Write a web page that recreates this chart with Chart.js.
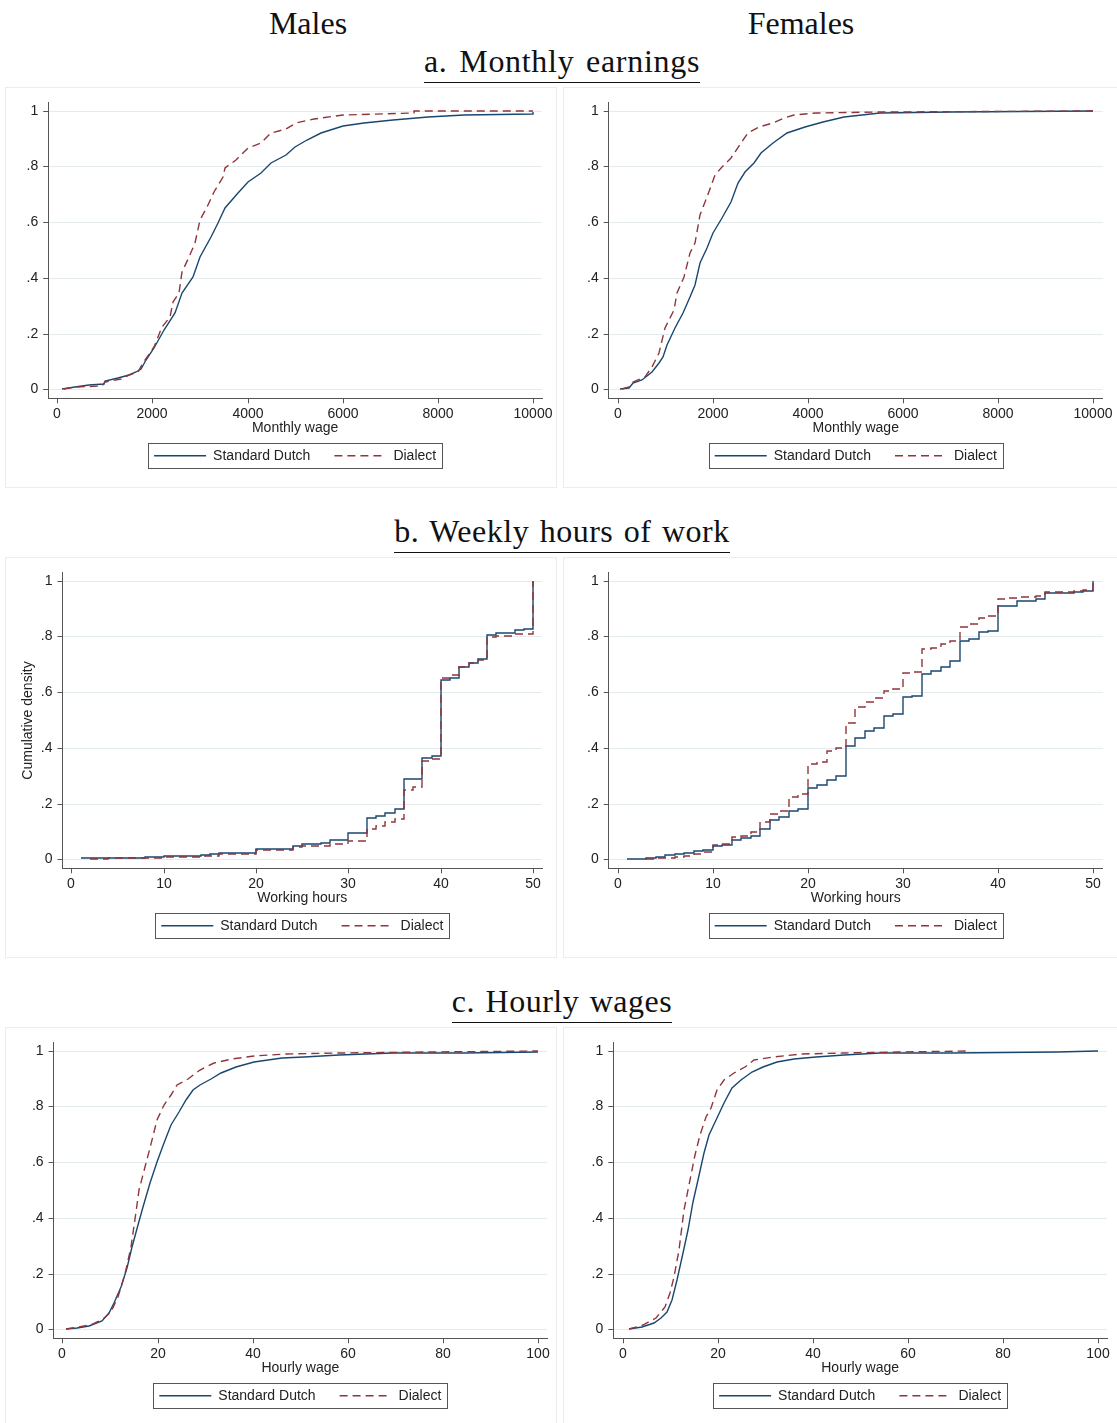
<!DOCTYPE html>
<html>
<head>
<meta charset="utf-8">
<title>Cumulative distributions</title>
<script src="https://cdn.jsdelivr.net/npm/chart.js@4.4.1/dist/chart.umd.min.js"></script>
<style>
    body {
        margin: 0;
        width: 1117px;
        height: 1423px;
        position: relative;
        overflow: hidden;
        background: #fff;
    }
    .serif {
        position: absolute;
        font-family: 'Liberation Serif', 'Times New Roman', serif;
        font-size: 32px;
        line-height: 32px;
        color: #111;
        white-space: nowrap;
    }
    .sex {
        transform: translateX(-50%);
    }
    .section {
        left: 0;
        width: 1124px;
        text-align: center;
    }
    .section span {
        display: inline-block;
        letter-spacing: 0.5px;
        word-spacing: 2px;
        padding-bottom: 5px;
        border-bottom: 1.6px solid #111;
    }
    .frame {
        position: absolute;
        box-sizing: border-box;
        border: 1px solid #ececec;
    }
    canvas {
        position: absolute;
    }
</style>
</head>
<body>

<div class="serif sex" style="left:308px; top:7px;">Males</div>
<div class="serif sex" style="left:801px; top:7px;">Females</div>

<div class="serif section" style="top:45px;"><span style="letter-spacing:0.7px; word-spacing:3px;">a. Monthly earnings</span></div>
<div class="serif section" style="top:515px;"><span>b. Weekly hours of work</span></div>
<div class="serif section" style="top:985px;"><span>c. Hourly wages</span></div>

<div class="frame" style="left:5px; top:87px; width:552px; height:401px;"></div>
<div class="frame" style="left:563px; top:87px; width:560px; height:401px;"></div>
<div class="frame" style="left:5px; top:557px; width:552px; height:401px;"></div>
<div class="frame" style="left:563px; top:557px; width:560px; height:401px;"></div>
<div class="frame" style="left:5px; top:1027px; width:552px; height:400px;"></div>
<div class="frame" style="left:563px; top:1027px; width:560px; height:400px;"></div>

<canvas id="earnMale" width="552" height="401" style="left:5px; top:87px;"></canvas>
<canvas id="earnFemale" width="556" height="401" style="left:561px; top:87px;"></canvas>
<canvas id="hoursMale" width="552" height="401" style="left:5px; top:557px;"></canvas>
<canvas id="hoursFemale" width="556" height="401" style="left:561px; top:557px;"></canvas>
<canvas id="wageMale" width="552" height="396" style="left:5px; top:1027px;"></canvas>
<canvas id="wageFemale" width="556" height="396" style="left:561px; top:1027px;"></canvas>

<script>
// Tick values
const yTicks = [0, 0.2, 0.4, 0.6, 0.8, 1];
const yTickLabels = ['0', '.2', '.4', '.6', '.8', '1'];
const earnTicks = [0, 2000, 4000, 6000, 8000, 10000];
const hourTicks = [0, 10, 20, 30, 40, 50];
const wageTicks = [0, 20, 40, 60, 80, 100];

// a. Monthly earnings
const earnMaleDutchX = [100, 375, 675, 975, 1013, 1275, 1500, 1650, 1763, 1876, 2026, 2250, 2475, 2625, 2850, 3000, 3225, 3375, 3525, 3790, 4015, 4275, 4500, 4800, 4990, 5250, 5550, 6000, 6450, 7050, 7800, 8550, 10000, 10000];
const earnMaleDutchY = [0, 0.01, 0.016, 0.02, 0.031, 0.04, 0.051, 0.062, 0.072, 0.105, 0.15, 0.213, 0.273, 0.345, 0.404, 0.476, 0.548, 0.596, 0.65, 0.703, 0.745, 0.775, 0.811, 0.841, 0.871, 0.895, 0.921, 0.945, 0.955, 0.967, 0.978, 0.984, 0.988, 0.996];
const earnMaleDialectX = [150, 375, 940, 1000, 1350, 1500, 1690, 1800, 2025, 2213, 2363, 2438, 2550, 2625, 2775, 2888, 3000, 3150, 3300, 3488, 3525, 3750, 4015, 4275, 4500, 4800, 5025, 5400, 6000, 7500, 7500, 10000];
const earnMaleDialectY = [0, 0.01, 0.012, 0.025, 0.036, 0.051, 0.063, 0.093, 0.153, 0.225, 0.26, 0.315, 0.345, 0.422, 0.476, 0.524, 0.608, 0.656, 0.709, 0.763, 0.793, 0.823, 0.865, 0.883, 0.919, 0.933, 0.955, 0.969, 0.986, 0.993, 1, 1];

const earnFemaleDutchX = [52, 240, 314, 500, 725, 875, 950, 1025, 1212, 1361, 1511, 1623, 1735, 1885, 1997, 2184, 2371, 2520, 2670, 2857, 3007, 3268, 3567, 3941, 4315, 4764, 5512, 7008, 10000];
const earnFemaleDutchY = [0, 0.006, 0.022, 0.033, 0.063, 0.093, 0.117, 0.159, 0.219, 0.273, 0.333, 0.374, 0.452, 0.506, 0.56, 0.614, 0.673, 0.739, 0.781, 0.811, 0.847, 0.883, 0.919, 0.943, 0.96, 0.978, 0.99, 0.996, 1];
const earnFemaleDialectX = [90, 240, 314, 576, 725, 875, 987, 1174, 1249, 1399, 1511, 1623, 1735, 1885, 2034, 2184, 2371, 2595, 2745, 2969, 3268, 3492, 3717, 4166, 5512, 10000];
const earnFemaleDialectY = [0, 0.007, 0.027, 0.045, 0.081, 0.129, 0.219, 0.285, 0.345, 0.404, 0.488, 0.524, 0.626, 0.691, 0.769, 0.799, 0.829, 0.883, 0.919, 0.943, 0.955, 0.972, 0.984, 0.99, 0.995, 0.998];

// b. Weekly hours of work (value after each step)
const hoursMaleDutchX = [1, 4, 8, 10, 14, 15, 16, 19, 20, 24, 25, 27, 28, 30, 32, 33, 34, 35, 36, 37, 38, 39, 40, 41, 42, 43, 44, 45, 46, 48, 49, 50];
const hoursMaleDutchY = [0.003, 0.005, 0.008, 0.012, 0.015, 0.018, 0.022, 0.024, 0.036, 0.047, 0.055, 0.06, 0.068, 0.096, 0.148, 0.155, 0.167, 0.18, 0.287, 0.29, 0.363, 0.37, 0.645, 0.652, 0.69, 0.705, 0.72, 0.806, 0.813, 0.823, 0.826, 1];
const hoursMaleDialectX = [2, 4, 8, 10, 14, 16, 20, 24, 25, 28, 30, 32, 33, 34, 35, 36, 37, 38, 39, 40, 41, 42, 43, 44, 45, 46, 48, 50];
const hoursMaleDialectY = [0.001, 0.004, 0.006, 0.01, 0.013, 0.02, 0.033, 0.043, 0.047, 0.055, 0.067, 0.11, 0.12, 0.133, 0.145, 0.25, 0.26, 0.353, 0.36, 0.65, 0.66, 0.69, 0.703, 0.715, 0.798, 0.803, 0.81, 1];

const hoursFemaleDutchX = [1, 3, 4, 5, 6, 7, 8, 9, 10, 11, 12, 13, 14, 15, 16, 17, 18, 19, 20, 21, 22, 23, 24, 25, 26, 27, 28, 29, 30, 31, 32, 33, 34, 35, 36, 37, 38, 39, 40, 41, 42, 43, 44, 45, 48, 49, 50];
const hoursFemaleDutchY = [0.002, 0.005, 0.008, 0.014, 0.02, 0.022, 0.03, 0.035, 0.047, 0.05, 0.07, 0.078, 0.085, 0.11, 0.14, 0.152, 0.175, 0.182, 0.255, 0.265, 0.285, 0.3, 0.405, 0.435, 0.462, 0.473, 0.515, 0.52, 0.582, 0.587, 0.665, 0.675, 0.692, 0.712, 0.785, 0.79, 0.815, 0.82, 0.908, 0.91, 0.926, 0.928, 0.933, 0.955, 0.958, 0.962, 1];
const hoursFemaleDialectX = [3, 4, 6, 7, 8, 9, 10, 11, 12, 13, 14, 15, 16, 17, 18, 19, 20, 21, 22, 23, 24, 25, 26, 27, 28, 29, 30, 31, 32, 33, 34, 35, 36, 37, 38, 39, 40, 41, 42, 44, 45, 48, 49, 50];
const hoursFemaleDialectY = [0.002, 0.004, 0.008, 0.012, 0.018, 0.025, 0.052, 0.055, 0.08, 0.083, 0.098, 0.133, 0.163, 0.175, 0.225, 0.233, 0.343, 0.35, 0.39, 0.4, 0.49, 0.545, 0.565, 0.578, 0.605, 0.61, 0.67, 0.672, 0.755, 0.76, 0.772, 0.785, 0.835, 0.845, 0.865, 0.875, 0.935, 0.937, 0.94, 0.945, 0.96, 0.963, 0.965, 1];

// c. Hourly wages
const wageMaleDutchX = [0.75, 3, 5.6, 8.3, 9.8, 10.9, 12.4, 13.5, 14.6, 15.8, 16.9, 18.4, 19.9, 21.4, 22.9, 24.4, 25.9, 27.4, 28.9, 31.2, 33.4, 36.4, 40.2, 46.2, 50.7, 58.2, 69.4, 84.5, 100];
const wageMaleDutchY = [0, 0.004, 0.012, 0.03, 0.057, 0.093, 0.153, 0.219, 0.297, 0.374, 0.44, 0.524, 0.602, 0.667, 0.733, 0.781, 0.823, 0.859, 0.877, 0.9, 0.921, 0.943, 0.961, 0.972, 0.978, 0.986, 0.99, 0.993, 0.995];
const wageMaleDialectX = [0.75, 3.4, 6.4, 8.6, 10.1, 11.6, 13.1, 14.3, 15.4, 16.1, 17.3, 18.4, 19.9, 21.4, 22.9, 24, 26.3, 28.9, 31.9, 35.7, 40.2, 46.9, 58.2, 77, 100];
const wageMaleDialectY = [0, 0.007, 0.018, 0.036, 0.063, 0.117, 0.2, 0.297, 0.422, 0.5, 0.584, 0.65, 0.751, 0.805, 0.841, 0.877, 0.9, 0.93, 0.955, 0.969, 0.981, 0.988, 0.993, 0.995, 1];

const wageFemaleDutchX = [1.35, 4, 6.6, 8.1, 9.2, 10.3, 11.4, 12.6, 13.7, 14.8, 15.9, 17, 18.2, 19.7, 21.2, 23, 24.9, 27.1, 29.4, 32.4, 36.1, 40.6, 46.6, 54, 69, 91.4, 100];
const wageFemaleDutchY = [0, 0.007, 0.022, 0.039, 0.063, 0.105, 0.177, 0.273, 0.356, 0.458, 0.536, 0.632, 0.697, 0.757, 0.811, 0.865, 0.895, 0.925, 0.943, 0.961, 0.971, 0.978, 0.986, 0.99, 0.993, 0.996, 0.998];
const wageFemaleDialectX = [1.35, 4.3, 7, 8.8, 9.9, 10.7, 11.8, 12.9, 14.1, 15.2, 16.3, 17.4, 18.5, 19.7, 21.2, 23.4, 25.6, 27.5, 31.6, 37.6, 46.6, 57.8, 73.1];
const wageFemaleDialectY = [0, 0.016, 0.039, 0.081, 0.129, 0.189, 0.285, 0.428, 0.536, 0.626, 0.697, 0.763, 0.793, 0.859, 0.895, 0.919, 0.943, 0.967, 0.978, 0.987, 0.993, 0.996, 1];

// Styles
const navy = '#1a476f';
const maroon = '#90353b';
const axisColor = '#555';
const gridColor = '#e3ebed';
const lineWidth = 1.4;

Chart.defaults.font.family = "'Liberation Sans', Arial, sans-serif";
Chart.defaults.font.size = 14;
Chart.defaults.color = '#222';

// Panel layout (pixel geometry, kept apart from the data)
const panels = [
    { id: 'earnMale', dutch: [earnMaleDutchX, earnMaleDutchY], dialect: [earnMaleDialectX, earnMaleDialectY],
      xTicks: earnTicks, xTitle: 'Monthly wage', xMin: -187, xMax: 10187,
      yWidth: 43.2, pad: { top: 15.7, right: 14.9, bottom: 15.2 }, stepped: false },
    { id: 'earnFemale', dutch: [earnFemaleDutchX, earnFemaleDutchY], dialect: [earnFemaleDialectX, earnFemaleDialectY],
      xTicks: earnTicks, xTitle: 'Monthly wage', xMin: -194, xMax: 10208,
      yWidth: 47.7, pad: { top: 15.7, right: 14.2, bottom: 15.2 }, stepped: false },
    { id: 'hoursMale', dutch: [hoursMaleDutchX, hoursMaleDutchY], dialect: [hoursMaleDialectX, hoursMaleDialectY],
      xTicks: hourTicks, xTitle: 'Working hours', xMin: -0.96, xMax: 50.96, yTitle: 'Cumulative density',
      yWidth: 57.5, pad: { top: 15.7, right: 14.9, bottom: 15.2 }, stepped: true },
    { id: 'hoursFemale', dutch: [hoursFemaleDutchX, hoursFemaleDutchY], dialect: [hoursFemaleDialectX, hoursFemaleDialectY],
      xTicks: hourTicks, xTitle: 'Working hours', xMin: -0.93, xMax: 51.04,
      yWidth: 47.7, pad: { top: 15.7, right: 14.2, bottom: 15.2 }, stepped: true },
    { id: 'wageMale', dutch: [wageMaleDutchX, wageMaleDutchY], dialect: [wageMaleDialectX, wageMaleDialectY],
      xTicks: wageTicks, xTitle: 'Hourly wage', xMin: -1.87, xMax: 101.87,
      yWidth: 48.6, pad: { top: 15.7, right: 9.9, bottom: 10.2 }, stepped: false },
    { id: 'wageFemale', dutch: [wageFemaleDutchX, wageFemaleDutchY], dialect: [wageFemaleDialectX, wageFemaleDialectY],
      xTicks: wageTicks, xTitle: 'Hourly wage', xMin: -2.02, xMax: 101.87,
      yWidth: 52.3, pad: { top: 15.7, right: 10, bottom: 10.2 }, stepped: false }
];

// Draws the Stata-like frame around the legend entries
const legendFrame = {
    id: 'legendFrame',
    afterDraw(chart) {
        const boxes = chart.legend && chart.legend.legendHitBoxes;
        if (!boxes || !boxes.length) return;
        const first = boxes[0];
        const last = boxes[boxes.length - 1];
        const left = Math.round(first.left - 6) + 0.5;
        const right = Math.round(last.left + last.width + 6) + 0.5;
        const mid = first.top + first.height / 2;
        const top = Math.round(mid - 12.5) + 0.5;
        const ctx = chart.ctx;
        ctx.save();
        ctx.setLineDash([]);
        ctx.lineWidth = 1;
        ctx.strokeStyle = axisColor;
        ctx.strokeRect(left, top, right - left, 25);
        ctx.restore();
    }
};

// Legend samples take the dataset line style (point style would drop the dash)
function legendLabels(chart) {
    const items = Chart.defaults.plugins.legend.labels.generateLabels(chart);
    items.forEach(item => {
        const ds = chart.data.datasets[item.datasetIndex];
        item.lineDash = ds.borderDash || [];
        item.lineWidth = ds.borderWidth;
        item.strokeStyle = ds.borderColor;
    });
    return items.sort((a, b) => a.datasetIndex - b.datasetIndex);
}

function toPoints(xs, ys) {
    return xs.map((x, i) => ({ x: x, y: ys[i] }));
}

function drawPanel(p) {
    const ctx = document.getElementById(p.id).getContext('2d');
    const step = p.stepped ? 'before' : false;

    new Chart(ctx, {
        type: 'line',
        data: {
            datasets: [
                {
                    label: 'Standard Dutch',
                    data: toPoints(p.dutch[0], p.dutch[1]),
                    borderColor: navy,
                    backgroundColor: navy,
                    borderWidth: lineWidth,
                    pointRadius: 0,
                    stepped: step,
                    order: 1
                },
                {
                    label: 'Dialect',
                    data: toPoints(p.dialect[0], p.dialect[1]),
                    borderColor: maroon,
                    backgroundColor: maroon,
                    borderWidth: lineWidth,
                    borderDash: [8, 5],
                    pointRadius: 0,
                    stepped: step,
                    order: 0
                }
            ]
        },
        options: {
            responsive: false,
            animation: false,
            events: [],
            layout: {
                padding: { left: 0, top: p.pad.top, right: p.pad.right, bottom: p.pad.bottom }
            },
            scales: {
                x: {
                    type: 'linear',
                    min: p.xMin,
                    max: p.xMax,
                    alignToPixels: true,
                    afterBuildTicks: scale => {
                        scale.ticks = p.xTicks.map(v => ({ value: v }));
                    },
                    afterFit: scale => {
                        scale.height = 26.5;
                    },
                    ticks: {
                        padding: 2,
                        maxRotation: 0,
                        color: '#222',
                        callback: value => String(value)
                    },
                    grid: {
                        drawOnChartArea: false,
                        tickLength: 5,
                        tickColor: axisColor
                    },
                    border: { color: axisColor, width: 1 },
                    title: {
                        display: true,
                        text: p.xTitle,
                        color: '#222',
                        padding: { top: 0, bottom: -11.9 }
                    }
                },
                y: {
                    type: 'linear',
                    min: -0.0323,
                    max: 1.0287,
                    alignToPixels: true,
                    afterBuildTicks: scale => {
                        scale.ticks = yTicks.map(v => ({ value: v }));
                    },
                    afterFit: scale => {
                        scale.width = p.yWidth;
                    },
                    ticks: {
                        padding: 5,
                        color: '#222',
                        callback: (value, index) => yTickLabels[index]
                    },
                    grid: {
                        color: gridColor,
                        lineWidth: 1,
                        tickLength: 5,
                        tickColor: axisColor
                    },
                    border: { color: axisColor, width: 1 },
                    title: {
                        display: !!p.yTitle,
                        text: p.yTitle || '',
                        color: '#222',
                        padding: { top: 15.2, bottom: 0 }
                    }
                }
            },
            plugins: {
                legend: {
                    position: 'bottom',
                    fullSize: false,
                    labels: {
                        usePointStyle: true,
                        pointStyle: 'line',
                        pointStyleWidth: 52,
                        padding: 24,
                        color: '#222',
                        generateLabels: legendLabels
                    }
                },
                tooltip: { enabled: false }
            }
        },
        plugins: [legendFrame]
    });
}

document.addEventListener('DOMContentLoaded', () => {
    panels.forEach(drawPanel);
});
</script>
</body>
</html>
